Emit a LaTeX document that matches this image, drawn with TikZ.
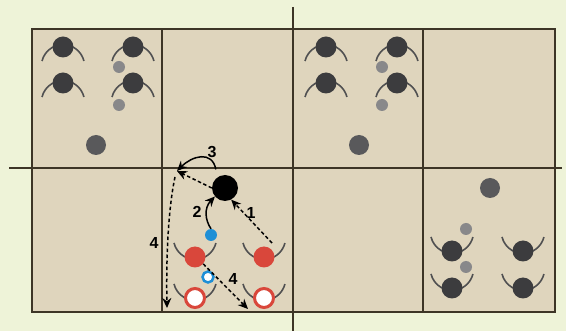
\documentclass[tikz,border=0pt]{standalone}
\usepackage{fontspec}
\setsansfont{Liberation Sans}
\usetikzlibrary{arrows.meta}

\definecolor{paper}{HTML}{EEF3D8}
\definecolor{pitch}{HTML}{DFD5BD}
\definecolor{chalk}{HTML}{3D3526}
\definecolor{shirt}{HTML}{3C3C3E}
\definecolor{ballgrey}{HTML}{88888A}
\definecolor{redshirt}{HTML}{D9473B}
\definecolor{blueball}{HTML}{1E8FD6}

\newcommand\facedown[4]{%
  \draw[arm] (#3,#4) ++(-21,14) arc[start angle=194,end angle=346,radius=21.6];
  \node[#2] (#1) at (#3,#4) {};}
\newcommand\faceup[4]{%
  \draw[arm] (#3,#4) ++(-21,-14) arc[start angle=166,end angle=14,radius=21.6];
  \node[#2] (#1) at (#3,#4) {};}

\begin{document}
\begin{tikzpicture}[x=1pt,y=-1pt,
  gridline/.style={draw=chalk,line width=1.2pt},
  arm/.style={draw=shirt!90,line width=1.6pt},
  attacker/.style={circle,fill=shirt,minimum size=21pt,inner sep=0pt},
  runner/.style={attacker,fill=redshirt},
  target/.style={circle,fill=white,draw=redshirt,line width=3pt,minimum size=19pt,inner sep=0pt},
  spare/.style={circle,fill=ballgrey,minimum size=12pt,inner sep=0pt},
  bigball/.style={circle,fill=shirt!85,minimum size=20pt,inner sep=0pt},
  keyball/.style={circle,fill=black,minimum size=26pt,inner sep=0pt},
  blueball/.style={circle,fill=blueball,minimum size=12pt,inner sep=0pt},
  bluering/.style={circle,fill=white,draw=blueball,line width=2.5pt,minimum size=11pt,inner sep=0pt},
  move/.style={line width=1.5pt,-{Stealth[length=10pt,width=9pt]}},
  pass/.style={move,dash pattern=on 3.5pt off 2.5pt},
  num/.style={font=\sffamily\bfseries\fontsize{16}{16}\selectfont,inner sep=0pt}]
  \useasboundingbox (0,0) rectangle (566,331);
  \fill[paper] (0,0) rectangle (566,331);
  \fill[pitch] (32,29) rectangle (555,312);
  \draw[gridline] (32,29) rectangle (555,312);
  \draw[gridline] (162,29) -- (162,312);
  \draw[gridline] (423,29) -- (423,312);
  \draw[gridline] (293,7) -- (293,331);
  \draw[gridline] (9,168) -- (562,168);

  \facedown{tl1}{attacker}{63}{47}
  \facedown{tl2}{attacker}{133}{47}
  \facedown{tl3}{attacker}{63}{83}
  \facedown{tl4}{attacker}{133}{83}
  \node[spare] (tls1) at (119,67) {};
  \node[spare] (tls2) at (119,105) {};
  \node[bigball] (tlb) at (96,145) {};

  \facedown{tr1}{attacker}{326}{47}
  \facedown{tr2}{attacker}{397}{47}
  \facedown{tr3}{attacker}{326}{83}
  \facedown{tr4}{attacker}{397}{83}
  \node[spare] (trs1) at (382,67) {};
  \node[spare] (trs2) at (382,105) {};
  \node[bigball] (trb) at (359,145) {};

  \faceup{br1}{attacker}{452}{251}
  \faceup{br2}{attacker}{523}{251}
  \faceup{br3}{attacker}{452}{288}
  \faceup{br4}{attacker}{523}{288}
  \node[spare] (brs1) at (466,229) {};
  \node[spare] (brs2) at (466,267) {};
  \node[bigball] (brb) at (490,188) {};

  \faceup{rp1}{runner}{195}{257}
  \faceup{rp2}{runner}{264}{257}
  \faceup{wp1}{target}{195}{298}
  \faceup{wp2}{target}{264}{298}
  \node[keyball] (black) at (225,188) {};
  \node[blueball] (bb) at (211,235) {};
  \node[bluering] (br) at (208,277) {};

  \coordinate (turn) at (177,171);
  \coordinate (drop) at (175,177);
  \coordinate (runa) at (167,308);
  \coordinate (runb) at (248,309);

  \draw[pass] ([shift={(8,-14)}]rp2.center) -- (black.-62);
  \draw[move] (bb.north) .. controls (205,220) and (204,208) .. (black.-140);
  \draw[move,shorten <=8pt] (black.125) .. controls (212,150) and (192,156) .. (turn);
  \draw[pass] (black.west) -- (turn);
  \draw[pass] (drop) .. controls (169,205) and (166,250) .. (runa);
  \draw[pass] (rp1.-40) -- (runb);

  \node[num] (n1) at (251,213) {1};
  \node[num] (n2) at (197,212) {2};
  \node[num] (n3) at (212,152) {3};
  \node[num] (n4a) at (154,243) {4};
  \node[num] (n4b) at (233,279) {4};
\end{tikzpicture}
\end{document}
